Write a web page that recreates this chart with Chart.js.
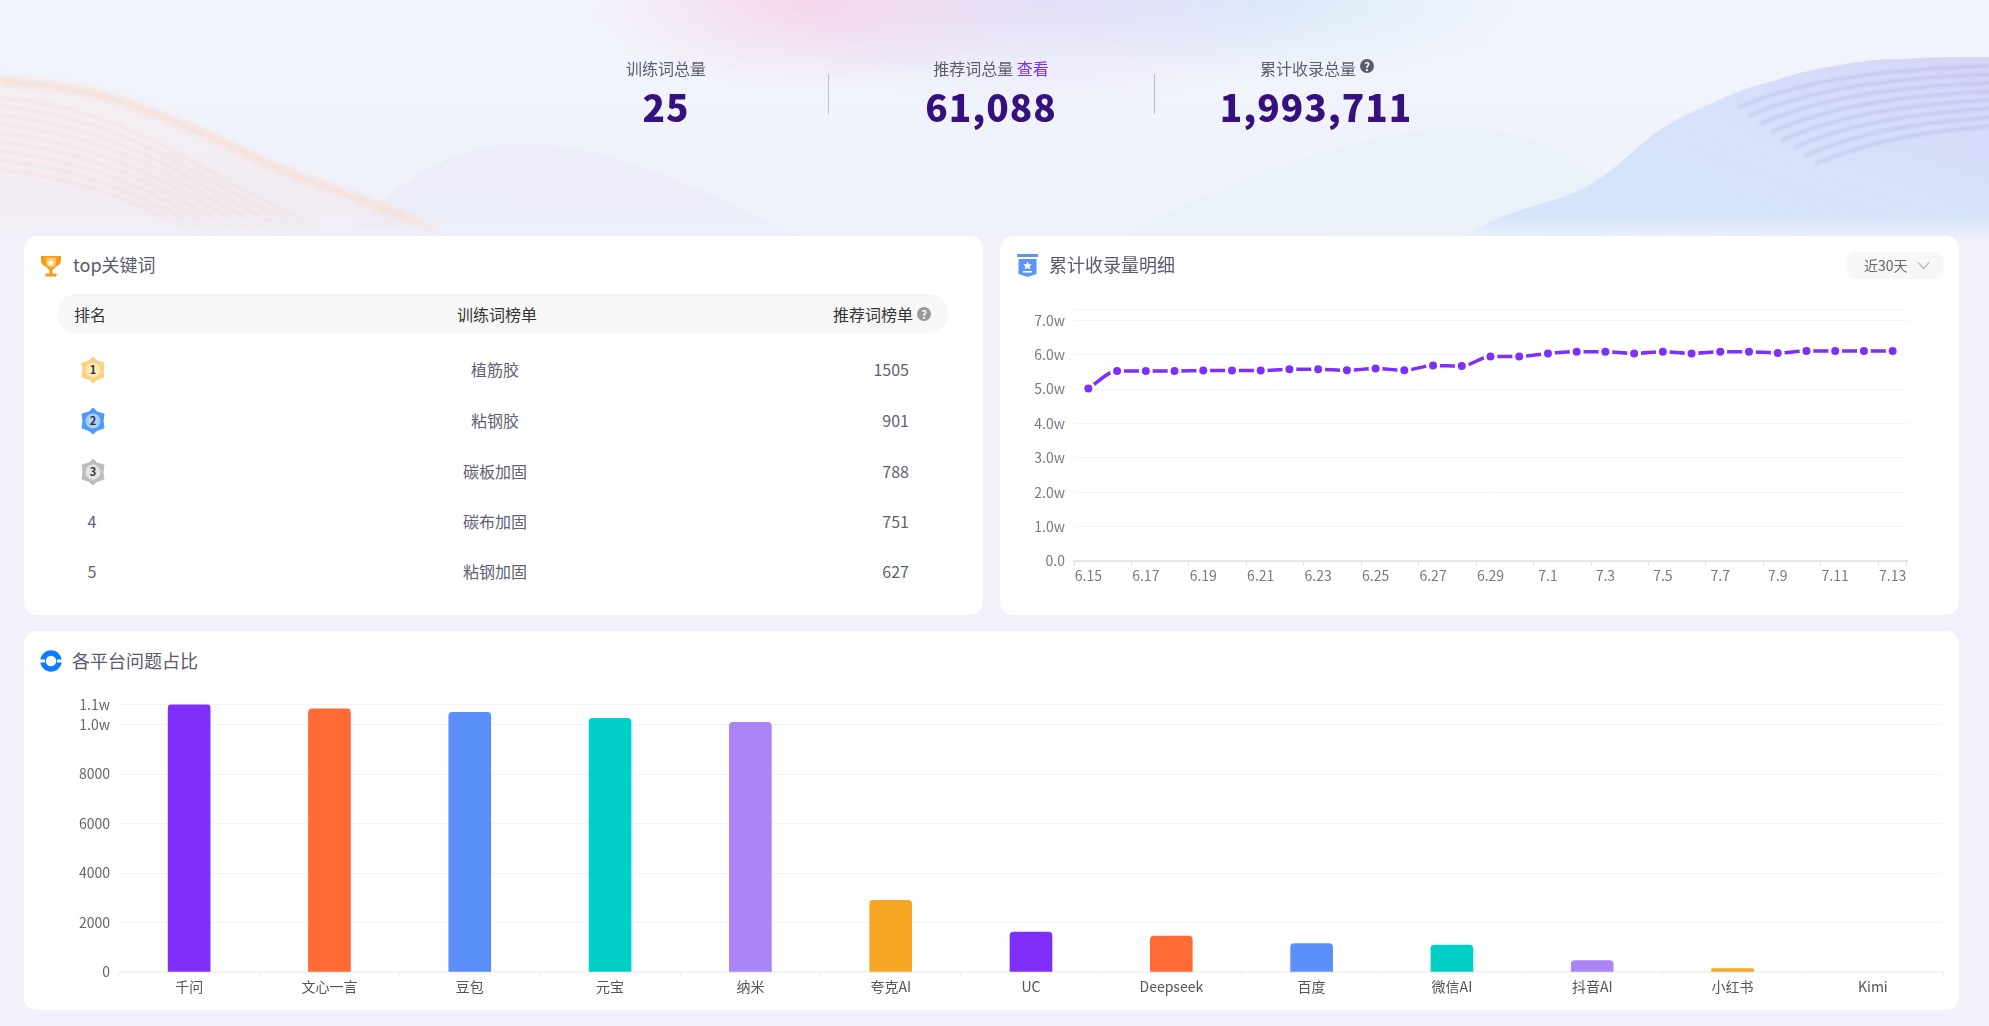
<!DOCTYPE html>
<html lang="zh">
<head>
<meta charset="utf-8">
<title>top关键词</title>
<script src="https://cdn.jsdelivr.net/npm/chart.js@4/dist/chart.umd.min.js"></script>
<style>
  html, body { margin: 0; padding: 0; width: 1989px; height: 1026px; overflow: hidden; background: #f0f1fb;
    font-family: "Noto Sans CJK SC", "Noto Sans", sans-serif; color: #5f6275; }
  .abs { position: absolute; }
  #bg { left: 0; top: 0; width: 1989px; height: 240px;
    background:
      radial-gradient(ellipse 230px 90px at 810px 0, rgba(247,205,230,.75), rgba(247,205,230,0)),
      radial-gradient(ellipse 300px 105px at 1040px 0, rgba(218,208,245,.6), rgba(218,208,245,0)),
      radial-gradient(ellipse 260px 80px at 1280px 0, rgba(205,228,248,.6), rgba(205,228,248,0)),
      linear-gradient(#f2f5fb 0, #eff1fb 230px, #f0f1fb 240px); }
  .card { position: absolute; background: #fff; border-radius: 13px; }
  .stat-label { position: absolute; top: 56px; font-size: 16px; line-height: 24px; white-space: nowrap; transform: translateX(-50%); color: #5a5d70; }
  .stat-label a { color: #7b2ff7; }
  .stat-num { position: absolute; top: 81px; font-size: 37px; line-height: 50px; font-weight: 900; letter-spacing: 1px; color: #36107f; white-space: nowrap; transform: translateX(-50%); }
  .sep { position: absolute; top: 74px; width: 1px; height: 40px; background: #bcbcc6; }
  .title { position: absolute; font-size: 18px; line-height: 26px; color: #5a5a6e; white-space: nowrap; }
  .cell { position: absolute; font-size: 16px; line-height: 24px; white-space: nowrap; }
  .mid { transform: translateX(-50%); }
  .hd { color: #333; }
  .help { position: absolute; width: 14px; height: 14px; border-radius: 50%; color: #fff; font-size: 11px; line-height: 14px; text-align: center; font-weight: 700; }
  canvas { position: absolute; display: block; }
</style>
</head>
<body>
<div id="bg" class="abs"></div>
<svg class="abs" style="left:0;top:0" width="1989" height="240" viewBox="0 0 1989 240">
  <defs>
    <filter id="b2"><feGaussianBlur stdDeviation="3"/></filter>
    <filter id="b1"><feGaussianBlur stdDeviation="1.400"/></filter>
    <linearGradient id="lf" x1="0" y1="0" x2="1" y2="1">
      <stop offset="0" stop-color="#fbe6e0" stop-opacity=".35"/><stop offset="1" stop-color="#f6e2ea" stop-opacity=".35"/>
    </linearGradient>
    <linearGradient id="rf" x1="0" y1="1" x2="1" y2="0">
      <stop offset="0" stop-color="#d0e4fb" stop-opacity=".9"/><stop offset=".55" stop-color="#d2dffa" stop-opacity=".85"/><stop offset="1" stop-color="#d2cff6" stop-opacity=".85"/>
    </linearGradient>
    <linearGradient id="fadeG" x1="0" y1="0" x2="0" y2="1">
      <stop offset=".9" stop-color="#fff"/><stop offset="1" stop-color="#000"/>
    </linearGradient>
    <mask id="fade"><rect width="1989" height="240" fill="url(#fadeG)"/></mask>
    <path id="ls" d="M0,97 C70,105 130,125 190,160 S300,215 350,250" fill="none"/>
    <path id="rs" d="M1738,108 C1790,85 1860,70 1989,66" fill="none"/>
  </defs>
  <g mask="url(#fade)">
    <path d="M342,240 C400,172 470,143 520,143 C610,143 700,190 810,240 Z" fill="#e6e6f6" opacity=".35"/>
    <path d="M1117,240 C1200,195 1350,128 1459,128 C1530,128 1575,155 1610,190 L1610,240 Z" fill="#e4f1f6" opacity=".5"/>
    <path d="M0,80 C50,85 90,90 127,103 S210,135 254,157 S340,190 381,207 S430,225 444,240 L0,240 Z" fill="url(#lf)"/>
    <path d="M0,80 C50,85 90,90 127,103 S210,135 254,157 S340,190 381,207 S430,225 444,240" fill="none" stroke="#f8dccf" stroke-width="6" filter="url(#b2)"/>
    <g stroke="#f2e0df" stroke-width="3.500" filter="url(#b1)" opacity=".7">
      <use href="#ls"/><use href="#ls" y="9"/><use href="#ls" y="18"/><use href="#ls" y="27"/><use href="#ls" y="36"/>
      <use href="#ls" y="45"/><use href="#ls" y="54"/><use href="#ls" y="63"/><use href="#ls" y="72"/>
    </g>
    <path d="M1459,240 C1510,205 1555,205 1586,187 C1612,172 1632,152 1650,137 C1672,120 1692,112 1713,103 C1735,92 1755,85 1777,80 C1800,72 1820,68 1840,65 C1865,60 1885,59 1903,59 C1930,57 1960,57 1989,57 L1989,240 Z" fill="url(#rf)"/>
    <g stroke="#b4b9e2" stroke-width="3.500" filter="url(#b1)" opacity=".5">
      <use href="#rs"/><use href="#rs" x="11" y="8"/><use href="#rs" x="22" y="16"/><use href="#rs" x="33" y="24"/><use href="#rs" x="44" y="32"/>
      <use href="#rs" x="55" y="40"/><use href="#rs" x="66" y="48"/><use href="#rs" x="77" y="56"/>
    </g>
  </g>
</svg>

<div class="stat-label" style="left:666px">训练词总量</div>
<div class="stat-num" style="left:666px">25</div>
<div class="sep" style="left:828px"></div>
<div class="stat-label" style="left:991px">推荐词总量 <a>查看</a></div>
<div class="stat-num" style="left:991px">61,088</div>
<div class="sep" style="left:1154px"></div>
<div class="stat-label" style="left:1308px">累计收录总量</div>
<div class="help" style="left:1360px;top:59px;background:#5a5d70">?</div>
<div class="stat-num" style="left:1316px">1,993,711</div>

<div class="card" style="left:24px;top:236px;width:959px;height:379px"></div>
<div class="card" style="left:1000px;top:236px;width:959px;height:379px"></div>
<div class="card" style="left:24px;top:631px;width:1935px;height:379px"></div>

<!-- card icons -->
<svg class="abs" style="left:40px;top:254px" width="22" height="23" viewBox="0 0 22 23">
  <path d="M1 2h20v4c0 4-2.500 6-5 6.500C15 14.500 13 15.500 12.500 16v3.500H16.500V22.500H5.500V19.500H9.500V16C9 15.500 7 14.500 6 12.500 3.500 12 1 10 1 6Z" fill="#fa9a1c"/>
  <path d="M6 3.500h10v5c0 3-2.500 5-5 5s-5-2-5-5Z" fill="#ffc65c"/>
  <path d="M11 5l1.200 2.400 2.600.3-1.900 1.800.5 2.600L11 10.900 8.600 12.100l.5-2.600L7.200 7.700l2.600-.3Z" fill="#fff"/>
</svg>
<svg class="abs" style="left:1017px;top:254px" width="21" height="23" viewBox="0 0 21 23">
  <rect x="0" y="0" width="21" height="3" fill="#5b95fa"/>
  <path d="M1.500 5H19.500V20L10.500 23 1.500 20Z" fill="#5b95fa"/>
  <path d="M10.500 7.500l1.300 2.700 2.900.4-2.100 2 .5 2.900-2.600-1.400-2.600 1.400.5-2.900-2.100-2 2.900-.4Z" fill="#fff"/>
  <rect x="6" y="17" width="9" height="1.600" fill="#fff"/>
</svg>
<svg class="abs" style="left:40px;top:650px" width="22" height="22" viewBox="0 0 22 22">
  <circle cx="11" cy="11" r="8" fill="none" stroke="#0b7bff" stroke-width="5.500"/>
  <path d="M0 9.500h5v3H0zM17 9.500h5v3h-5z" fill="#fff"/>
</svg>

<div class="title" style="left:73px;top:251px">top关键词</div>
<div class="title" style="left:1049px;top:251px">累计收录量明细</div>
<div class="title" style="left:72px;top:647px">各平台问题占比</div>

<!-- table header -->
<div class="abs" style="left:57px;top:294px;width:891px;height:39px;border-radius:20px;background:#f7f7f7"></div>
<div class="cell hd mid" style="left:90px;top:302px">排名</div>
<div class="cell hd mid" style="left:497px;top:302px">训练词榜单</div>
<div class="cell hd" style="left:833px;top:302px">推荐词榜单</div>
<div class="help" style="left:917px;top:307px;background:#999">?</div>
<div id="rows"></div>

<!-- range select -->
<div class="abs" style="left:1847px;top:252px;width:96px;height:27px;border-radius:8px;background:#f7f7f7"></div>
<div class="abs" style="left:1864px;top:254px;font-size:14px;line-height:23px;color:#666">近30天</div>
<svg class="abs" style="left:1917px;top:261px" width="13" height="9" viewBox="0 0 13 9"><path d="M1 1.500L6.500 7.500 12 1.500" fill="none" stroke="#b8b8b8" stroke-width="1.200"/></svg>

<canvas id="lineChart" width="930" height="308" style="left:1012px;top:292px"></canvas>
<canvas id="barChart" width="1915" height="318" style="left:36px;top:687px"></canvas>

<script>
// top table
const topRanks = [1, 2, 3, 4, 5];
const topWords = ['植筋胶', '粘钢胶', '碳板加固', '碳布加固', '粘钢加固'];
const topCounts = [1505, 901, 788, 751, 627];

// line chart
const lineDays = ['6.15','6.16','6.17','6.18','6.19','6.20','6.21','6.22','6.23','6.24','6.25','6.26','6.27','6.28','6.29','6.30',
  '7.1','7.2','7.3','7.4','7.5','7.6','7.7','7.8','7.9','7.10','7.11','7.12','7.13'];
const lineValues = [50200,55300,55300,55300,55400,55400,55400,55800,55800,55500,56000,55500,56900,56700,59500,59500,
  60400,60900,60900,60400,60900,60400,60900,60900,60500,61100,61100,61100,61100];
const lineTicks = [0,10000,20000,30000,40000,50000,60000,70000,73200];
const lineTickLabels = ['0.0','1.0w','2.0w','3.0w','4.0w','5.0w','6.0w','7.0w',''];

// bar chart
const platforms = ['千问','文心一言','豆包','元宝','纳米','夸克AI','UC','Deepseek','百度','微信AI','抖音AI','小红书','Kimi'];
const platformValues = [10815,10640,10490,10250,10090,2895,1616,1454,1145,1090,458,135,null];
const barTicks = [0,2000,4000,6000,8000,10000,10815];
const barTickLabels = ['0','2000','4000','6000','8000','1.0w','1.1w'];
const barColors = ['#7f2ffa','#ff6b35','#5b8ffa','#00cfc8','#a985f6','#f5a623'];

const medalColors = { 1: ['#fbd27a', '#fde9b8'], 2: ['#4f9bfb', '#a9d0fd'], 3: ['#bdbdbd', '#e4e4e4'] };
const rowTops = [369, 420, 471, 521, 571];
const rows = document.getElementById('rows');
topRanks.forEach((r, i) => {
  let html = '';
  const y = rowTops[i];
  if (medalColors[r]) {
    const [c1, c2] = medalColors[r];
    html += '<svg class="abs" style="left:80px;top:' + (y - 13) + 'px" width="26" height="28" viewBox="0 0 26 28">' +
      '<polygon points="13,1 17,5 24,7 23,14 24,21 17,23.500 13,27 9,23.500 2,21 3,14 2,7 9,5" fill="' + c1 + '" stroke="' + c1 + '" stroke-linejoin="round"/>' +
      '<circle cx="13" cy="14" r="7.500" fill="' + c2 + '"/>' +
      '<text x="13" y="18" text-anchor="middle" font-size="11" font-weight="700" fill="#333">' + r + '</text></svg>';
  } else {
    html += '<div class="cell mid" style="left:92px;top:' + (y - 12) + 'px">' + r + '</div>';
  }
  html += '<div class="cell mid" style="left:495px;top:' + (y - 12) + 'px">' + topWords[i] + '</div>';
  html += '<div class="cell" style="right:' + (1989 - 909) + 'px;top:' + (y - 12) + 'px">' + topCounts[i] + '</div>';
  rows.insertAdjacentHTML('beforeend', html);
});

Chart.defaults.font.family = '"Noto Sans CJK SC", "Noto Sans", sans-serif';
Chart.defaults.font.size = 14;
Chart.defaults.animation = false;
Chart.defaults.responsive = false;

new Chart(document.getElementById('lineChart'), {
  type: 'line',
  data: {
    labels: lineDays,
    datasets: [{
      data: lineValues,
      borderColor: '#7f2ffa',
      backgroundColor: '#7f2ffa',
      borderWidth: 3.5,
      cubicInterpolationMode: 'monotone',
      pointRadius: 5.5,
      pointBorderWidth: 3,
      pointBackgroundColor: '#7f2ffa',
      pointBorderColor: '#fff'
    }]
  },
  options: {
    layout: { padding: { top: 0, right: 35, bottom: 0, left: 0 } },
    plugins: { legend: { display: false }, tooltip: { enabled: false } },
    scales: {
      x: {
        offset: true,
        border: { color: '#e6e6e6', width: 2 },
        grid: {
          offset: true,
          drawOnChartArea: false,
          tickLength: 5,
          tickColor: ctx => (ctx.index % 2 && ctx.index < lineDays.length) ? 'transparent' : '#e0e0e0'
        },
        ticks: {
          autoSkip: false, maxRotation: 0, padding: 1, color: '#77798a',
          callback: (v, i) => i % 2 ? '' : lineDays[i]
        },
        afterFit: s => { s.height = 39; }
      },
      y: {
        min: 0, max: 73200,
        border: { display: false },
        grid: { color: '#f4f4f6', drawTicks: false },
        afterBuildTicks: s => { s.ticks = lineTicks.map(v => ({ value: v })); },
        ticks: {
          padding: 9, color: '#77798a',
          callback: v => lineTickLabels[lineTicks.indexOf(v)]
        },
        afterFit: s => { s.width = 62; }
      }
    }
  }
});

new Chart(document.getElementById('barChart'), {
  type: 'bar',
  data: {
    labels: platforms,
    datasets: [{
      data: platformValues,
      backgroundColor: platforms.map((p, i) => barColors[i % barColors.length]),
      barThickness: 42,
      borderRadius: { topLeft: 4, topRight: 4 },
      borderSkipped: 'bottom'
    }]
  },
  options: {
    layout: { padding: { top: 0, right: 8, bottom: 0, left: 0 } },
    plugins: { legend: { display: false }, tooltip: { enabled: false } },
    scales: {
      x: {
        border: { color: '#f3f3f5', width: 2 },
        grid: { offset: true, drawOnChartArea: false, tickLength: 5, tickColor: '#f0f0f2' },
        ticks: { autoSkip: false, maxRotation: 0, padding: 1, color: '#555' },
        afterFit: s => { s.height = 33; }
      },
      y: {
        min: 0, max: 10815,
        border: { display: false },
        grid: { color: '#f4f4f6', drawTicks: false },
        afterBuildTicks: s => { s.ticks = barTicks.map(v => ({ value: v })); },
        ticks: {
          padding: 9, color: '#666',
          callback: v => barTickLabels[barTicks.indexOf(v)]
        },
        afterFit: s => { s.width = 83; }
      }
    }
  }
});
</script>
</body>
</html>
